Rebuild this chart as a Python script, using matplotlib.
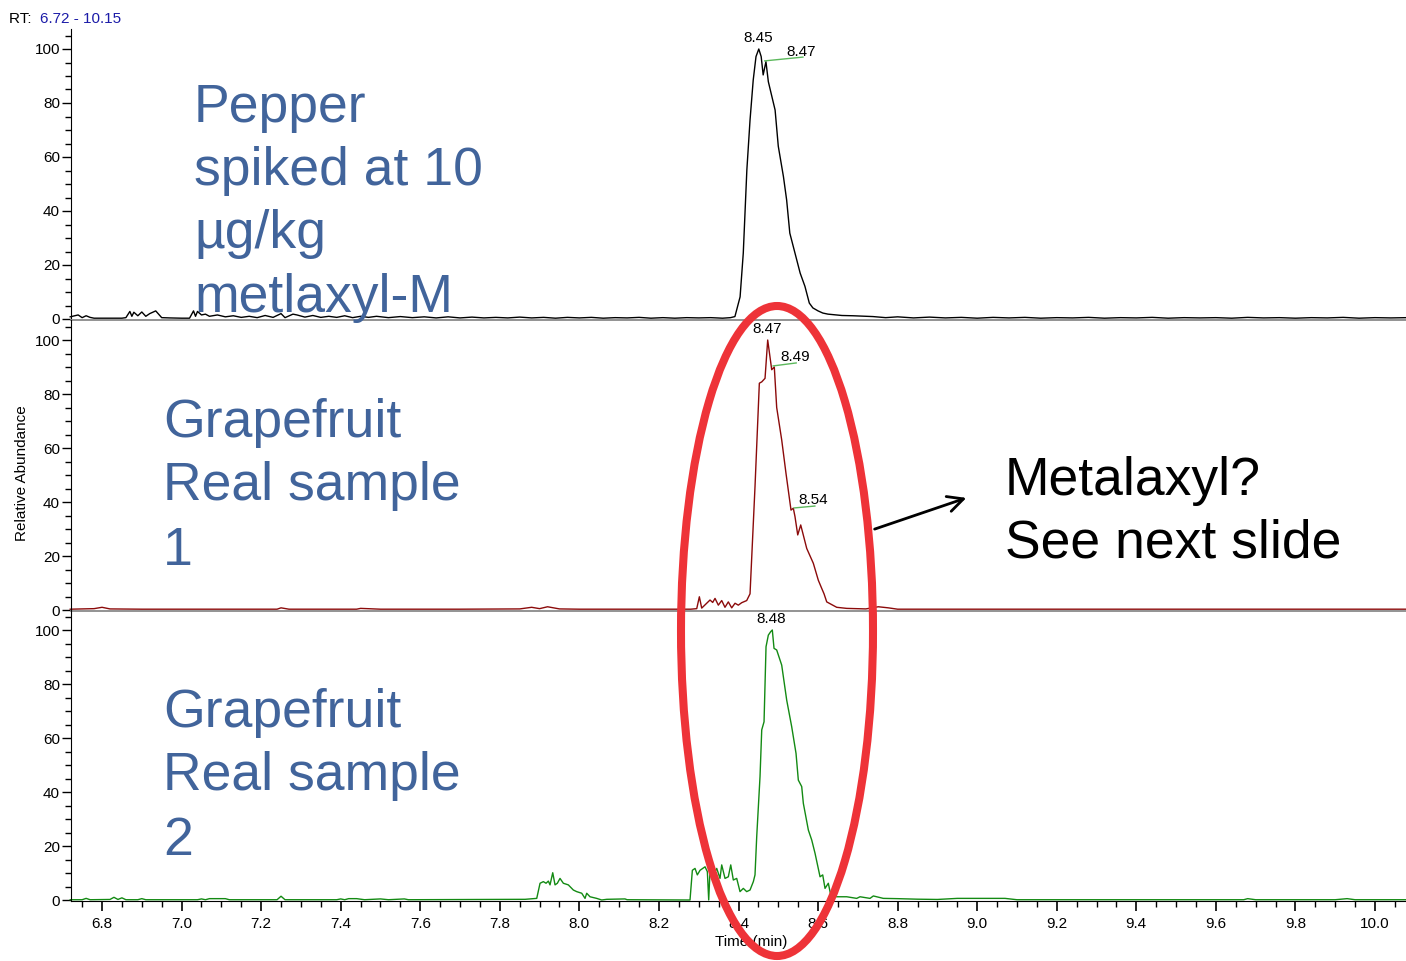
import matplotlib
matplotlib.use("Agg")
import matplotlib.pyplot as plt
from matplotlib.patches import Ellipse
from matplotlib.ticker import MultipleLocator

plt.rcParams['font.family'] = ['Liberation Sans', 'DejaVu Sans']

# ---- chromatogram data (time in min, relative abundance in %) ----
pepper_t = [6.72, 6.74, 6.75, 6.76, 6.77, 6.78, 6.80, 6.85, 6.86, 6.87, 6.875, 6.88, 6.89, 6.90,
            6.91, 6.92, 6.935, 6.95, 6.97, 7.00, 7.02, 7.03, 7.035, 7.04, 7.05, 7.06, 7.07, 7.09,
            7.11, 7.13, 7.15, 7.17, 7.19, 7.21, 7.23, 7.25, 7.26, 7.28, 7.29, 7.31, 7.33, 7.35,
            7.37, 7.39, 7.41, 7.43, 7.45, 7.47, 7.49, 7.52, 7.55, 7.58, 7.61, 7.64, 7.67, 7.70,
            7.73, 7.76, 7.79, 7.82, 7.85, 7.88, 7.91, 7.94, 7.97, 8.00, 8.03, 8.06, 8.09, 8.12,
            8.15, 8.18, 8.21, 8.24, 8.27, 8.30, 8.33, 8.36, 8.38,
            8.391, 8.404, 8.412, 8.421, 8.429, 8.437, 8.444, 8.451, 8.457, 8.462, 8.469, 8.475,
            8.492, 8.500, 8.513, 8.521, 8.529, 8.542, 8.555, 8.567, 8.578, 8.587, 8.600, 8.612,
            8.625, 8.638, 8.660, 8.688, 8.738, 8.77, 8.80, 8.84, 8.88, 8.92, 8.96, 9.00, 9.04,
            9.08, 9.12, 9.16, 9.20, 9.24, 9.28, 9.32, 9.36, 9.40, 9.44, 9.48, 9.52, 9.56, 9.60,
            9.64, 9.68, 9.72, 9.76, 9.80, 9.84, 9.88, 9.92, 9.96, 10.00, 10.04, 10.08]
pepper_y = [0.8, 1.5, 0.5, 1.2, 0.6, 0.3, 0.3, 0.3, 0.5, 2.8, 1.0, 2.5, 1.2, 2.6,
            1.0, 2.0, 3.0, 0.5, 0.4, 0.3, 0.3, 3.0, 1.0, 2.8, 1.5, 1.8, 1.0, 1.5,
            0.8, 1.2, 0.6, 1.0, 0.5, 1.3, 0.6, 2.0, 0.5, 1.8, 1.5, 0.7, 1.3, 0.6,
            1.0, 0.6, 1.2, 0.5, 1.0, 0.6, 1.0, 0.5, 0.9, 0.5, 0.8, 0.4, 0.8, 0.4,
            0.7, 0.4, 0.6, 0.4, 0.7, 0.4, 0.6, 0.3, 0.6, 0.4, 0.6, 0.3, 0.5, 0.4,
            0.6, 0.3, 0.5, 0.3, 0.5, 0.4, 0.5, 0.3, 0.5,
            0.9, 8.2, 24.4, 55.2, 73.7, 88.5, 97.2, 100.0, 97.2, 90.4, 95.3, 87.9,
            77.4, 64.0, 52.7, 44.1, 31.8, 24.4, 17.0, 12.1, 5.9, 4.1, 3.0, 2.2,
            1.8, 1.6, 1.3, 1.2, 0.9, 0.5, 0.8, 0.4, 0.7, 0.4, 0.6, 0.3, 0.6,
            0.4, 0.6, 0.3, 0.5, 0.4, 0.6, 0.3, 0.5, 0.4, 0.6, 0.3, 0.5, 0.4, 0.5,
            0.3, 0.6, 0.4, 0.5, 0.3, 0.5, 0.4, 0.6, 0.3, 0.5, 0.4, 0.5]

grape1_t = [6.72, 6.78, 6.80, 6.82, 6.90, 7.00, 7.10, 7.20, 7.24, 7.25, 7.27, 7.40, 7.44, 7.45,
            7.50, 7.60, 7.70, 7.85, 7.88, 7.90, 7.92, 7.95, 8.00, 8.10, 8.20, 8.28, 8.295,
            8.3016, 8.3075, 8.3284, 8.3351, 8.341, 8.3493, 8.3578, 8.366, 8.3744, 8.3829,
            8.3913, 8.3995, 8.408, 8.4206, 8.429, 8.4415, 8.4524, 8.4585, 8.4667, 8.4734,
            8.4835, 8.490, 8.496, 8.5086, 8.5194, 8.532, 8.5378, 8.542, 8.5489, 8.5564,
            8.5715, 8.5881, 8.6007, 8.6092, 8.615, 8.6218, 8.6343, 8.6469, 8.672, 8.72,
            8.7515, 8.7766, 8.80, 8.90, 9.00, 9.20, 9.40, 9.60, 9.80, 10.00, 10.08]
grape1_y = [0.3, 0.5, 1.0, 0.4, 0.3, 0.3, 0.3, 0.3, 0.3, 0.8, 0.3, 0.3, 0.3, 0.6,
            0.3, 0.3, 0.3, 0.4, 1.0, 0.5, 1.2, 0.4, 0.3, 0.3, 0.3, 0.3, 0.5,
            4.9, 0.7, 3.7, 2.8, 4.3, 1.8, 3.5, 1.0, 3.0, 0.8,
            2.5, 1.8, 2.7, 3.5, 6.0, 45.7, 84.0, 84.5, 85.8, 100.0,
            89.0, 90.0, 75.0, 63.0, 50.6, 37.0, 37.7, 34.6, 27.8, 31.5,
            22.8, 17.3, 11.0, 8.0, 6.0, 3.0, 2.0, 1.0, 0.6, 0.4,
            1.2, 0.8, 0.3, 0.3, 0.3, 0.3, 0.3, 0.3, 0.3, 0.3, 0.3]

grape2_t = [6.72, 6.75, 6.76, 6.77, 6.82, 6.83, 6.84, 6.85, 6.86, 6.89, 6.90, 6.91, 7.04, 7.05,
            7.06, 7.07, 7.09, 7.11, 7.12, 7.24, 7.25, 7.26, 7.39, 7.40, 7.41, 7.42, 7.44, 7.46,
            7.50, 7.52, 7.56, 7.57, 7.8634, 7.8928, 7.9011, 7.9094, 7.9162, 7.922, 7.9262,
            7.933, 7.9388, 7.9446, 7.9513, 7.9597, 7.9722, 7.9848, 7.9932, 8.0059, 8.0142,
            8.0184, 8.0267, 8.0435, 8.0561, 8.0687, 8.1147, 8.12, 8.2781, 8.284, 8.2907,
            8.2965, 8.3033, 8.3159, 8.3217, 8.3251, 8.3284, 8.3368, 8.3453, 8.3535, 8.3578,
            8.3661, 8.3744, 8.3805, 8.387, 8.3955, 8.4038, 8.4121, 8.4206, 8.429, 8.4373,
            8.4415, 8.4458, 8.4541, 8.4584, 8.4642, 8.4692, 8.475, 8.481, 8.485, 8.4893,
            8.496, 8.5086, 8.5212, 8.5337, 8.5446, 8.5504, 8.5589, 8.563, 8.5756, 8.5841,
            8.5924, 8.605, 8.6117, 8.6175, 8.6258, 8.6318, 8.6469, 8.672, 8.6972, 8.7055,
            8.7306, 8.739, 8.764, 8.80, 8.85, 8.90, 8.95, 9.00, 9.07, 9.10, 9.20, 9.40, 9.60,
            9.67, 9.68, 9.70, 9.90, 9.93, 9.95, 10.08]
grape2_y = [0.1, 0.1, 0.6, 0.1, 0.2, 1.0, 0.2, 0.8, 0.1, 0.1, 0.5, 0.1, 0.1, 0.4,
            0.1, 0.5, 0.5, 0.5, 0.1, 0.1, 1.4, 0.1, 0.1, 0.4, 0.1, 0.5, 0.5, 0.1,
            0.4, 0.1, 0.4, 0.1, 0.25, 0.6, 6.2, 6.8, 6.2, 7.0, 5.6,
            10.1, 5.6, 6.2, 8.0, 6.2, 5.6, 3.7, 3.1, 2.5, 0.6,
            2.5, 1.2, 0.6, 0.0, 0.25, 0.4, 0.1, 0.0, 11.0, 11.7,
            9.3, 11.0, 12.3, 10.5, 0.0, 11.0, 9.3, 11.7, 8.0, 13.0,
            8.0, 8.6, 13.0, 7.4, 8.0, 3.1, 4.3, 3.1, 3.7, 6.8,
            9.3, 23.5, 45.7, 63.0, 66.0, 93.8, 98.1, 99.4, 100.0, 93.2,
            92.6, 87.0, 74.0, 64.2, 54.3, 44.4, 42.0, 35.8, 25.9, 22.2,
            17.3, 8.6, 9.3, 4.3, 6.2, 1.9, 1.2, 1.2, 0.6, 1.2,
            0.6, 1.5, 0.6, 0.5, 0.3, 0.2, 0.6, 0.6, 0.6, 0.1, 0.1, 0.1, 0.1,
            0.1, 0.5, 0.1, 0.1, 0.5, 0.1, 0.1]

# peak labels: (time, height, text)
pepper_labels = [(8.449, 104, "8.45"), (8.557, 99, "8.47")]
grape1_labels = [(8.472, 104, "8.47"), (8.542, 93.7, "8.49"), (8.587, 40.7, "8.54")]
grape2_labels = [(8.482, 104, "8.48")]
# green leader lines under shoulder labels: (t0, y0, t1, y1)
pepper_leaders = [(8.466, 95.6, 8.562, 97.0)]
grape1_leaders = [(8.487, 90.4, 8.545, 91.5), (8.540, 37.8, 8.592, 38.5)]

W, H = 1406, 961
fig = plt.figure(figsize=(W / 100, H / 100), dpi=100)

xmin, xmax = 6.722, 10.078
ylo, yhi = -0.5, 107.5
zero_px = [319, 610, 900]
ax_h = (yhi - ylo) * 2.7

traces = [(pepper_t, pepper_y, 'black', pepper_labels, pepper_leaders),
          (grape1_t, grape1_y, '#8b0a0a', grape1_labels, grape1_leaders),
          (grape2_t, grape2_y, '#138a13', grape2_labels, [])]

axes = []
for i, (t, y, col, labels, leaders) in enumerate(traces):
    bottom_px = zero_px[i] + 0.5 * 2.7
    ax = fig.add_axes([71 / W, (H - bottom_px) / H, (W - 71) / W, ax_h / H])
    ax.patch.set_alpha(0)
    ax.plot(t, y, color=col, lw=1.0, clip_on=False)
    ax.set_xlim(xmin, xmax)
    ax.set_ylim(ylo, yhi)
    ax.spines['top'].set_visible(False)
    ax.spines['right'].set_visible(False)
    ax.yaxis.set_major_locator(MultipleLocator(20))
    ax.yaxis.set_minor_locator(MultipleLocator(5))
    ax.set_yticks([0, 20, 40, 60, 80, 100])
    ax.tick_params(axis='y', which='major', direction='out', length=6.5, width=1, labelsize=11, pad=1.5)
    ax.tick_params(axis='y', which='minor', direction='out', length=4.3, width=1)
    for lab_t, lab_y, txt in labels:
        ax.text(lab_t, lab_y, txt, ha='center', va='center', fontsize=11, clip_on=False)
    for t0, y0, t1, y1 in leaders:
        ax.plot([t0, t1], [y0, y1], color='#5cb85c', lw=1.0, clip_on=False)
    if i < 2:
        ax.spines['bottom'].set_color('#8a8a8a')
        ax.spines['bottom'].set_linewidth(1.3)
        ax.tick_params(axis='x', which='both', bottom=False, labelbottom=False)
    else:
        ax.xaxis.set_major_locator(MultipleLocator(0.2))
        ax.xaxis.set_minor_locator(MultipleLocator(0.05))
        ax.tick_params(axis='x', which='major', direction='out', length=7, width=1.2, labelsize=11, pad=4)
        ax.tick_params(axis='x', which='minor', direction='out', length=4.5, width=1)
        ax.set_xticks([round(6.8 + 0.2 * k, 1) for k in range(17)])
        ax.set_xticklabels([f"{6.8 + 0.2 * k:.1f}" for k in range(17)])
        ax.set_xlim(xmin, xmax)
    axes.append(ax)

fig.text(751 / W, 1 - 942 / H, "Time (min)", ha='center', va='center', fontsize=11)
fig.text(22 / W, 1 - 473 / H, "Relative Abundance", ha='center', va='center', fontsize=11, rotation=90)
fig.text(9 / W, 1 - 19 / H, "RT: ", ha='left', va='center', fontsize=11)
fig.text(40 / W, 1 - 19 / H, "6.72 - 10.15", ha='left', va='center', fontsize=11, color='#1c1ca8')

# overlay for slide annotations, in pixel coordinates
ov = fig.add_axes([0, 0, 1, 1], zorder=10)
ov.set_xlim(0, W)
ov.set_ylim(H, 0)
ov.axis('off')
ov.patch.set_alpha(0)

blue = '#41649b'
blocks = [
    (194, [122, 185, 248, 312], ["Pepper", "spiked at 10", "µg/kg", "metlaxyl-M"], blue),
    (163, [437, 500, 565], ["Grapefruit", "Real sample", "1"], blue),
    (163, [727, 790, 855], ["Grapefruit", "Real sample", "2"], blue),
    (1005, [495, 558], ["Metalaxyl?", "See next slide"], 'black'),
]
for x0, ys, lines, col in blocks:
    for yb, line in zip(ys, lines):
        ov.text(x0, yb, line, ha='left', va='baseline', fontsize=38.5, color=col)

ov.annotate('', xy=(969, 497), xytext=(872, 530),
            arrowprops=dict(arrowstyle='->', lw=2, color='black', mutation_scale=28))
ov.add_patch(Ellipse((777, 631), 192, 650, fill=False, lw=5.8, edgecolor='#ee3338'))

fig.savefig('out.png', dpi=100)
